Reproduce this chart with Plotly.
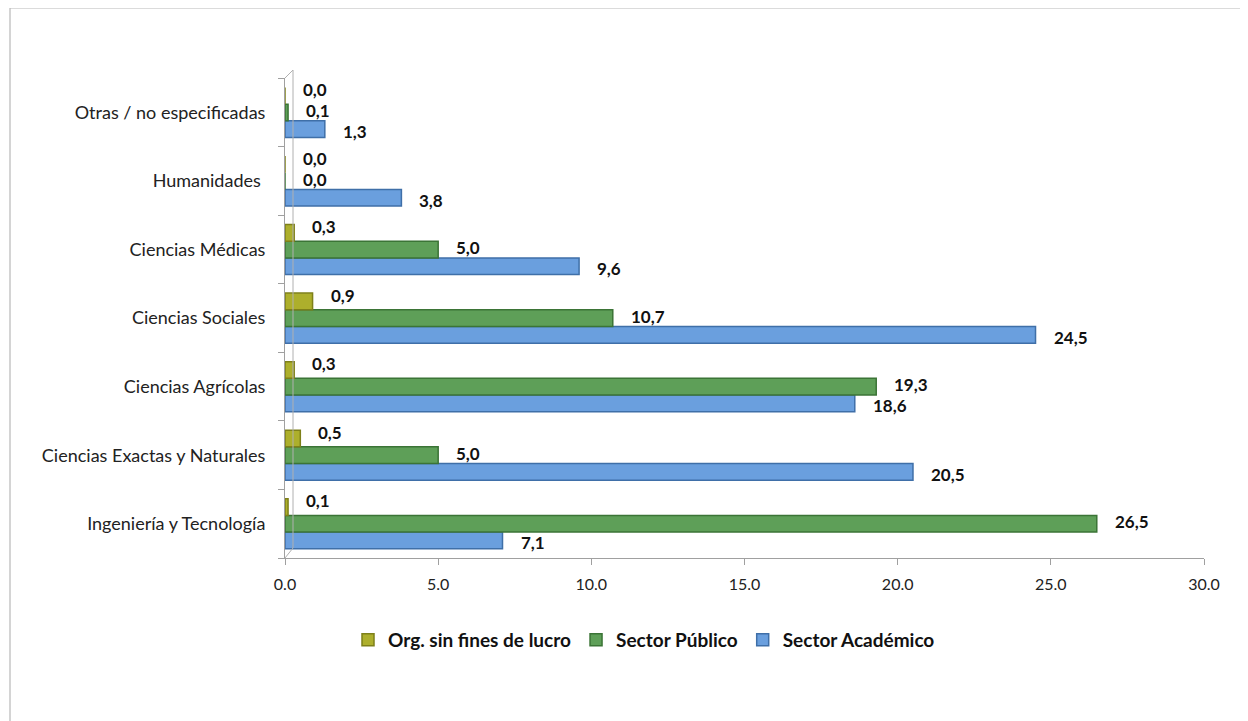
import plotly.graph_objects as go

categories = ["Ingeniería y Tecnología", "Ciencias Exactas y Naturales", "Ciencias Agrícolas",
              "Ciencias Sociales", "Ciencias Médicas", "Humanidades ", "Otras / no especificadas"]
org_sin_fines = [0.1, 0.5, 0.3, 0.9, 0.3, 0.0, 0.0]
sector_publico = [26.5, 5.0, 19.3, 10.7, 5.0, 0.0, 0.1]
sector_academico = [7.1, 20.5, 18.6, 24.5, 9.6, 3.8, 1.3]
x_ticks = [0, 5, 10, 15, 20, 25, 30]

# name, values, fill, edge, label vertical shift (px)
series = [
    ("Sector Académico", sector_academico, "#6A9FDE", "#3F6FA8", -19),
    ("Sector Público", sector_publico, "#5E9F58", "#3B7436", 2),
    ("Org. sin fines de lucro", org_sin_fines, "#ADAF2C", "#7E8019", 23),
]

OFF = 8  # page body margin
W, H = 1248 - OFF, 721 - OFF
L, R, T, B = 285 - OFF, 1204 - OFF, 78 - OFF, 558 - OFF

def px(x):
    return (x - OFF - L) / (R - L)

def py(y):
    return (B - (y - OFF)) / (B - T)

fig = go.Figure()
annotations = []
for name, vals, col, edge, dy in series:
    fig.add_trace(go.Bar(
        y=categories, x=vals, name=name, orientation="h",
        marker=dict(color=col, line=dict(color=edge, width=1.5)),
        hoverinfo="skip",
    ))
    for cat, v in zip(categories, vals):
        annotations.append(dict(
            x=v, y=cat, xref="x", yref="y", text=f"{v:.1f}".replace(".", ","),
            showarrow=False, xanchor="left", yanchor="middle", xshift=17, yshift=dy,
            borderpad=0,
            font=dict(family="Lato", size=17, color="#111111", weight="bold"),
        ))

fig.update_layout(
    width=W, height=H,
    margin=dict(l=L, r=W - R, t=T, b=H - B),
    paper_bgcolor="white", plot_bgcolor="white",
    barmode="group", bargap=0.27, bargroupgap=0,
    font=dict(family="Lato", size=18, color="#222222"),
    showlegend=True,
    legend=dict(orientation="h", x=px(644), xanchor="center", y=py(640), yanchor="middle",
                traceorder="reversed", font=dict(family="Lato", size=19, color="#111111", weight="bold"),
                itemwidth=30, bgcolor="rgba(0,0,0,0)"),
    xaxis=dict(range=[0, 30], tickvals=x_ticks, ticktext=[f"{t:.1f}" for t in x_ticks],
               showgrid=False, zeroline=False, showline=True, linecolor="#A0A0A0", linewidth=1,
               ticks="outside", ticklen=6, tickcolor="#A0A0A0", ticklabelstandoff=6,
               tickfont=dict(family="Lato", size=16, color="#222222")),
    yaxis=dict(categoryorder="array", categoryarray=categories, tickson="boundaries",
               showgrid=False, zeroline=False, showline=True, linecolor="#A0A0A0", linewidth=1,
               ticks="outside", ticklen=6, tickcolor="#A0A0A0", ticklabelstandoff=15,
               tickfont=dict(family="Lato", size=18, color="#222222")),
    annotations=annotations,
    shapes=[
        dict(type="rect", xref="paper", yref="paper", x0=px(10), x1=px(1260), y0=py(740), y1=py(8),
             line=dict(color="#B8B8B8", width=1.2), fillcolor="rgba(0,0,0,0)", layer="below"),
        dict(type="line", xref="paper", yref="paper", x0=px(293), x1=px(293), y0=py(548), y1=py(70),
             line=dict(color="#B0B0B0", width=1)),
        dict(type="line", xref="paper", yref="paper", x0=px(285), x1=px(293), y0=py(78), y1=py(70),
             line=dict(color="#B0B0B0", width=1)),
        dict(type="line", xref="paper", yref="paper", x0=px(285), x1=px(293), y0=py(558), y1=py(548),
             line=dict(color="#B0B0B0", width=1)),
        dict(type="path", xref="paper", yref="paper",
             path=f"M {px(1150)},{py(0)} L {px(1248)},{py(0)} L {px(1248)},{py(8)} L {px(1145)},{py(8)} Z",
             fillcolor="#E6F2EA", line=dict(width=0)),
    ],
)

fig.write_html("out.html")
